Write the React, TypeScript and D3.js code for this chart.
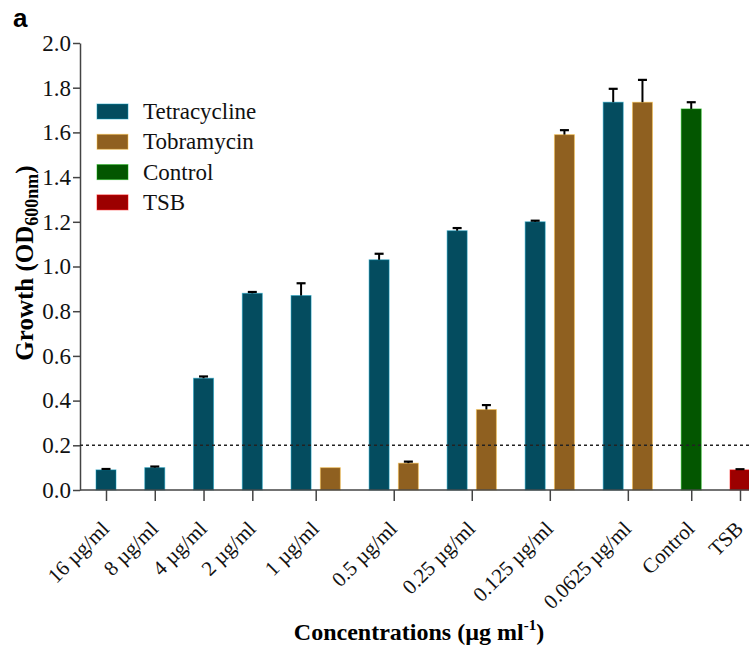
import * as d3 from "d3";
import { useEffect, useRef } from "react";

const WIDTH = 749;
const HEIGHT = 649;

const categories = [
    "16 µg/ml",
    "8 µg/ml",
    "4 µg/ml",
    "2 µg/ml",
    "1 µg/ml",
    "0.5 µg/ml",
    "0.25 µg/ml",
    "0.125 µg/ml",
    "0.0625 µg/ml",
    "Control",
    "TSB",
];

// null = no bar for that series in that category
const tetracycline = [0.09, 0.1, 0.5, 0.88, 0.87, 1.03, 1.16, 1.2, 1.735, null, null];
const tetracyclineErr = [0.004, 0.005, 0.008, 0.006, 0.055, 0.027, 0.012, 0.005, 0.06, null, null];
const tobramycin = [null, null, null, null, 0.1, 0.12, 0.36, 1.59, 1.735, null, null];
const tobramycinErr = [null, null, null, null, 0, 0.007, 0.02, 0.02, 0.1, null, null];
const control = [null, null, null, null, null, null, null, null, null, 1.705, null];
const controlErr = [null, null, null, null, null, null, null, null, null, 0.03, null];
const tsb = [null, null, null, null, null, null, null, null, null, null, 0.09];
const tsbErr = [null, null, null, null, null, null, null, null, null, null, 0.003];

const yTicks = [0, 0.2, 0.4, 0.6, 0.8, 1.0, 1.2, 1.4, 1.6, 1.8, 2.0];
const threshold = 0.2;

type Series = { name: string; color: string; values: (number | null)[]; errors: (number | null)[] };

const series: Series[] = [
    { name: "Tetracycline", color: "#044c5f", values: tetracycline, errors: tetracyclineErr },
    { name: "Tobramycin", color: "#8f6020", values: tobramycin, errors: tobramycinErr },
    { name: "Control", color: "#035600", values: control, errors: controlErr },
    { name: "TSB", color: "#9c0000", values: tsb, errors: tsbErr },
];

const SERIF = "'Liberation Serif', 'Times New Roman', serif";

export default function App() {
    const svgRef = useRef<SVGSVGElement | null>(null);

    useEffect(() => {
        if (!svgRef.current) return;
        const svg = d3.select(svgRef.current);
        svg.selectAll("*").remove();

        const axisLeft = 80;
        const y = d3.scaleLinear().domain([0, 2]).range([490, 43]);

        // bar slots: bars in the same category sit 0.6 units apart, categories 1 unit apart
        type Bar = { cat: number; s: Series; value: number; err: number; slot: number };
        const bars: Bar[] = [];
        const centers: number[] = [];
        let cursor = 0;
        categories.forEach((_, ci) => {
            const inCat = series.filter((s) => s.values[ci] !== null);
            const slots = inCat.map((_, j) => cursor + j * 0.6);
            inCat.forEach((s, j) =>
                bars.push({ cat: ci, s, value: s.values[ci] as number, err: s.errors[ci] ?? 0, slot: slots[j] })
            );
            centers.push(d3.mean(slots) as number);
            cursor = slots[slots.length - 1] + 1;
        });
        const lastSlot = cursor - 1;
        const x = d3.scaleLinear().domain([0, lastSlot]).range([106, 740]);
        const barW = x(0.41) - x(0);

        const g = svg.append("g");

        // panel letter
        svg.append("text")
            .attr("x", 13)
            .attr("y", 27)
            .attr("font-family", "'Liberation Sans', Arial, sans-serif")
            .attr("font-weight", "bold")
            .attr("font-size", 26)
            .text("a");

        // y axis
        const yAxis = g
            .append("g")
            .attr("transform", `translate(${axisLeft},0)`)
            .call(
                d3
                    .axisLeft(y)
                    .tickValues(yTicks)
                    .tickFormat((d) => d3.format(".1f")(Number(d)))
                    .tickSize(7)
                    .tickSizeOuter(0)
                    .tickPadding(2)
            );
        yAxis.select(".domain").attr("stroke", "#444").attr("stroke-width", 1.5);
        yAxis.selectAll(".tick line").attr("stroke", "#444").attr("stroke-width", 1.5);
        yAxis
            .selectAll(".tick text")
            .attr("font-family", SERIF)
            .attr("font-size", 23)
            .attr("fill", "#111");

        // bars
        g.selectAll("rect.bar")
            .data(bars)
            .enter()
            .append("rect")
            .attr("class", "bar")
            .attr("x", (d) => x(d.slot) - barW / 2)
            .attr("y", (d) => y(d.value))
            .attr("width", barW)
            .attr("height", (d) => y(0) - y(d.value))
            .attr("fill", (d) => d.s.color)
            .attr("stroke", (d) => d3.color(d.s.color)!.brighter(2).formatHex())
            .attr("stroke-opacity", 0.5)
            .attr("stroke-width", 1);

        // error bars (upper only)
        const errBars = bars.filter((d) => d.err > 0);
        g.selectAll("line.err")
            .data(errBars)
            .enter()
            .append("line")
            .attr("x1", (d) => x(d.slot))
            .attr("x2", (d) => x(d.slot))
            .attr("y1", (d) => y(d.value))
            .attr("y2", (d) => y(d.value + d.err))
            .attr("stroke", "#000")
            .attr("stroke-width", 2);
        g.selectAll("line.cap")
            .data(errBars)
            .enter()
            .append("line")
            .attr("x1", (d) => x(d.slot) - 4.5)
            .attr("x2", (d) => x(d.slot) + 4.5)
            .attr("y1", (d) => y(d.value + d.err))
            .attr("y2", (d) => y(d.value + d.err))
            .attr("stroke", "#000")
            .attr("stroke-width", 2.2);

        // threshold line
        g.append("line")
            .attr("x1", axisLeft)
            .attr("x2", WIDTH)
            .attr("y1", y(threshold))
            .attr("y2", y(threshold))
            .attr("stroke", "#222")
            .attr("stroke-width", 1.5)
            .attr("stroke-dasharray", "3,3");

        // x axis
        const xAxis = g
            .append("g")
            .attr("transform", `translate(0,${y(0)})`)
            .call(
                d3
                    .axisBottom(x)
                    .tickValues(centers)
                    .tickFormat((_, i) => categories[i])
                    .tickSize(11)
                    .tickSizeOuter(0)
            );
        xAxis.select(".domain").remove();
        xAxis.selectAll(".tick line").attr("stroke", "#444").attr("stroke-width", 1.5);
        xAxis
            .selectAll(".tick text")
            .attr("font-family", SERIF)
            .attr("font-size", 21)
            .attr("fill", "#111")
            .attr("x", 0)
            .attr("y", 0)
            .attr("dy", 0)
            .attr("text-anchor", "end")
            .attr("transform", "translate(4,40) rotate(-45)");
        g.append("line")
            .attr("x1", axisLeft)
            .attr("x2", WIDTH)
            .attr("y1", y(0))
            .attr("y2", y(0))
            .attr("stroke", "#444")
            .attr("stroke-width", 1.5);

        // axis titles
        const yTitle = svg
            .append("text")
            .attr("transform", `translate(33,263) rotate(-90)`)
            .attr("text-anchor", "middle")
            .attr("font-family", SERIF)
            .attr("font-weight", "bold")
            .attr("font-size", 25);
        yTitle.append("tspan").text("Growth (OD");
        yTitle.append("tspan").attr("font-size", 18).attr("dy", 5).text("600nm");
        yTitle.append("tspan").attr("dy", -5).text(")");

        const xTitle = svg
            .append("text")
            .attr("x", 419)
            .attr("y", 640)
            .attr("text-anchor", "middle")
            .attr("font-family", SERIF)
            .attr("font-weight", "bold")
            .attr("font-size", 24);
        xTitle.append("tspan").text("Concentrations (µg ml");
        xTitle.append("tspan").attr("font-size", 15).attr("dy", -10).text("-1");
        xTitle.append("tspan").attr("dy", 10).text(")");

        // legend
        const legend = svg
            .append("g")
            .selectAll("g")
            .data(series)
            .enter()
            .append("g")
            .attr("transform", (_, i) => `translate(97,${104 + i * 30.3})`);
        legend
            .append("rect")
            .attr("width", 31)
            .attr("height", 15)
            .attr("fill", (d) => d.color)
            .attr("stroke", (d) => d3.color(d.color)!.brighter(2).formatHex())
            .attr("stroke-opacity", 0.5);
        legend
            .append("text")
            .attr("x", 46)
            .attr("y", 15)
            .attr("font-family", SERIF)
            .attr("font-size", 23)
            .attr("fill", "#111")
            .text((d) => d.name);

        return () => {
            svg.selectAll("*").remove();
        };
    }, []);

    return (
        <div style={{ position: "absolute", left: 0, top: 0, width: WIDTH, height: HEIGHT, background: "#fff" }}>
            <svg ref={svgRef} width={WIDTH} height={HEIGHT} style={{ display: "block" }} />
        </div>
    );
}
